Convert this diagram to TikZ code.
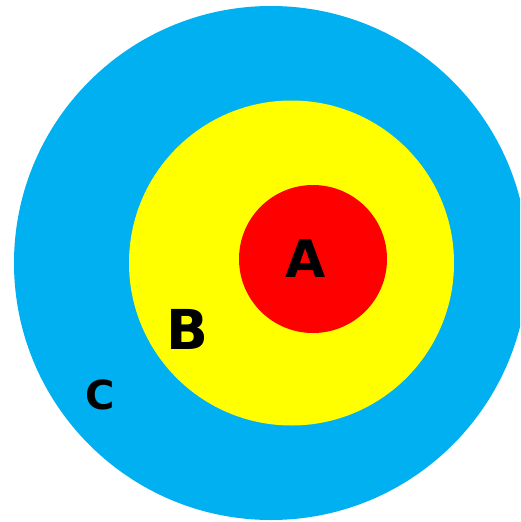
\documentclass[tikz,border=0pt]{standalone}
\usepackage{fontspec}
\setmainfont{DejaVu Sans}
\definecolor{ringC}{HTML}{00B0F0}
\definecolor{ringB}{HTML}{FFFF00}
\definecolor{ringA}{HTML}{FF0000}
\begin{document}
\begin{tikzpicture}[x=1pt,y=-1pt,
  lab/.style={inner sep=0pt,anchor=base,font=\bfseries}]
\useasboundingbox (0,0) rectangle (520,522);
\clip (0,0) rectangle (520,522);
\fill[ringC] (271,263) circle (257);
\fill[ringB] (291.5,263) circle (162.5);
\fill[ringA] (313,259) circle (74);
\node[lab,font=\fontsize{52}{60}\selectfont\bfseries] (a) at (306,277) {A};
\node[lab,font=\fontsize{55}{63}\selectfont\bfseries] (b) at (187,349) {B};
\node[lab,font=\fontsize{40}{48}\selectfont\bfseries] (c) at (100,409) {C};
\end{tikzpicture}
\end{document}
